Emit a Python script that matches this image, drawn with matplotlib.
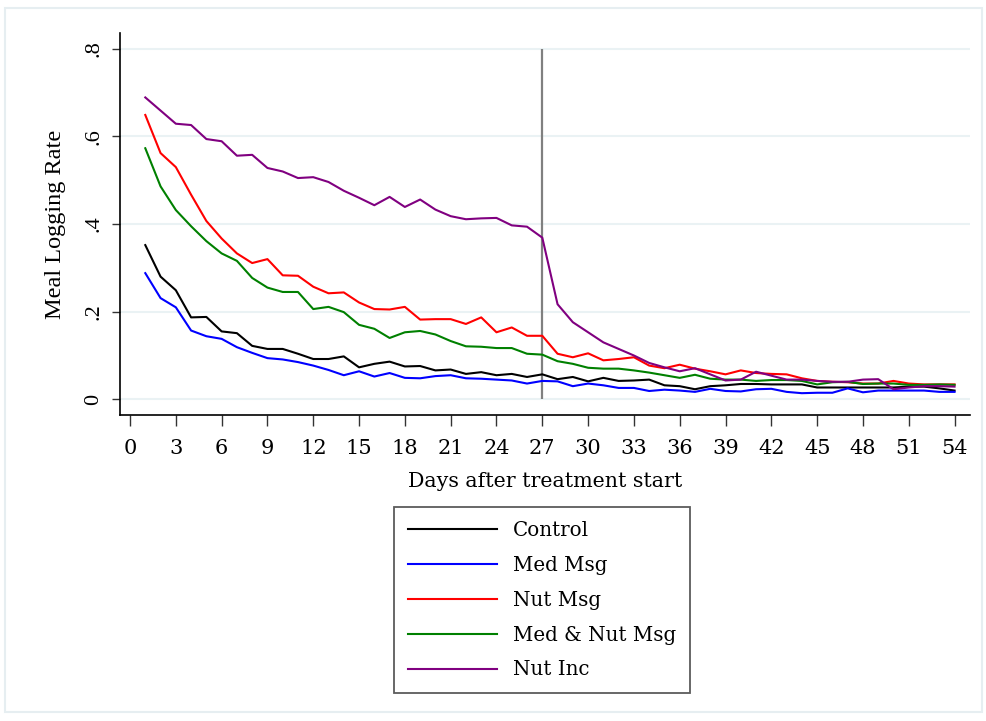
import numpy as np
import matplotlib
matplotlib.use("Agg")
from matplotlib import pyplot as plt
from matplotlib.patches import Rectangle

days = np.arange(1, 55)

control = [0.352, 0.280, 0.249, 0.187, 0.188, 0.155, 0.151, 0.122, 0.115, 0.115,
           0.104, 0.092, 0.092, 0.098, 0.073, 0.081, 0.086, 0.075, 0.076, 0.066,
           0.068, 0.058, 0.062, 0.055, 0.058, 0.051, 0.057, 0.046, 0.051, 0.041,
           0.049, 0.042, 0.043, 0.045, 0.032, 0.030, 0.023, 0.030, 0.032, 0.035,
           0.035, 0.034, 0.034, 0.034, 0.027, 0.027, 0.027, 0.027, 0.027, 0.027,
           0.029, 0.029, 0.025, 0.020]
med_msg = [0.288, 0.231, 0.210, 0.157, 0.144, 0.138, 0.119, 0.106, 0.094, 0.091,
           0.085, 0.077, 0.067, 0.055, 0.064, 0.052, 0.060, 0.049, 0.048, 0.053,
           0.055, 0.048, 0.047, 0.045, 0.043, 0.036, 0.042, 0.041, 0.030, 0.036,
           0.032, 0.026, 0.026, 0.019, 0.022, 0.020, 0.017, 0.024, 0.019, 0.018,
           0.023, 0.024, 0.017, 0.014, 0.015, 0.015, 0.025, 0.016, 0.020, 0.020,
           0.020, 0.020, 0.017, 0.017]
nut_msg = [0.649, 0.562, 0.530, 0.467, 0.407, 0.367, 0.333, 0.311, 0.320, 0.283,
           0.282, 0.257, 0.242, 0.244, 0.221, 0.206, 0.205, 0.211, 0.182, 0.183,
           0.183, 0.172, 0.187, 0.153, 0.164, 0.145, 0.145, 0.104, 0.096, 0.105,
           0.089, 0.092, 0.096, 0.077, 0.071, 0.079, 0.070, 0.064, 0.057, 0.066,
           0.060, 0.058, 0.057, 0.048, 0.042, 0.040, 0.039, 0.036, 0.036, 0.042,
           0.036, 0.034, 0.034, 0.034]
med_nut_msg = [0.573, 0.486, 0.432, 0.395, 0.361, 0.333, 0.316, 0.277, 0.255, 0.245,
               0.245, 0.206, 0.211, 0.199, 0.170, 0.161, 0.140, 0.153, 0.156, 0.148,
               0.133, 0.121, 0.120, 0.117, 0.117, 0.104, 0.102, 0.087, 0.081, 0.072,
               0.070, 0.070, 0.066, 0.061, 0.055, 0.049, 0.056, 0.047, 0.045, 0.045,
               0.042, 0.044, 0.044, 0.042, 0.034, 0.039, 0.040, 0.035, 0.036, 0.036,
               0.033, 0.033, 0.034, 0.033]
nut_inc = [0.689, 0.659, 0.629, 0.626, 0.594, 0.589, 0.556, 0.558, 0.528, 0.520,
           0.505, 0.507, 0.496, 0.476, 0.460, 0.443, 0.462, 0.439, 0.456, 0.433,
           0.418, 0.411, 0.413, 0.414, 0.397, 0.394, 0.369, 0.217, 0.176, 0.153,
           0.130, 0.115, 0.100, 0.083, 0.073, 0.064, 0.071, 0.057, 0.043, 0.045,
           0.063, 0.054, 0.045, 0.045, 0.042, 0.040, 0.040, 0.045, 0.046, 0.023,
           0.027, 0.030, 0.030, 0.029]

series = [("Control", control, "black"),
          ("Med Msg", med_msg, "#0000ff"),
          ("Nut Msg", nut_msg, "#ff0000"),
          ("Med & Nut Msg", med_nut_msg, "#008000"),
          ("Nut Inc", nut_inc, "#800080")]

xticks = np.arange(0, 55, 3)
yticks = [0, 0.2, 0.4, 0.6, 0.8]
yticklabels = ["0", ".2", ".4", ".6", ".8"]

fig = plt.figure(figsize=(9.87, 7.21), dpi=100)
fig.patches.append(Rectangle((0.005, 0.013), 0.99, 0.976, transform=fig.transFigure,
                             fill=False, edgecolor="#e6eef1", linewidth=1.5))

ax = fig.add_axes([0.1216, 0.4244, 0.861, 0.5298])

for y in yticks:
    ax.axhline(y, color="#eaf2f4", linewidth=1.5, zorder=0)
ax.vlines(27, 0, 0.8, color="#808080", linewidth=1.6, zorder=1)

for name, vals, col in series:
    ax.plot(days, vals, color=col, linewidth=1.5, label=name, zorder=2)

ax.set_xlim(-0.655, 55.0)
ax.set_ylim(-0.0358, 0.836)
ax.set_xticks(xticks)
ax.set_xticklabels([str(t) for t in xticks], family="DejaVu Serif", fontsize=15)
ax.set_yticks(yticks)
ax.set_yticklabels(yticklabels, family="Liberation Serif", fontsize=16,
                   rotation=90, va="center")
ax.tick_params(axis="both", direction="out", width=1, color="#333333")
ax.tick_params(axis="x", length=8, pad=9)
ax.tick_params(axis="y", length=6, pad=6)

for s in ["top", "right"]:
    ax.spines[s].set_visible(False)
ax.spines["left"].set_linewidth(1.2)
ax.spines["bottom"].set_linewidth(1.2)

ax.set_xlabel("Days after treatment start", family="DejaVu Serif", fontsize=14.8, labelpad=10)
ax.set_ylabel("Meal Logging Rate", family="Liberation Serif", fontsize=17.5, labelpad=13)

leg = fig.legend(loc="upper center", bbox_to_anchor=(0.5491, 1 - 507 / 721),
                 prop={"family": "DejaVu Serif", "size": 14.3}, frameon=True,
                 fancybox=False, edgecolor="#333333", handlelength=4.5,
                 labelspacing=0.8, handletextpad=0.8, borderpad=0.7,
                 borderaxespad=0)
leg.get_frame().set_linewidth(1.3)

fig.savefig("out.png", dpi=100)
